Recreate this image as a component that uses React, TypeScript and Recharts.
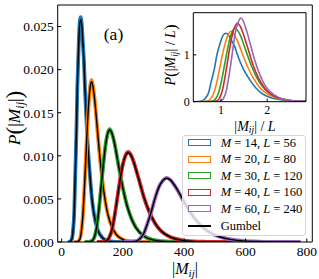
import React from 'react';
import { LineChart, Line, XAxis, YAxis, CartesianGrid } from 'recharts';

const FONT = '"Liberation Serif", "DejaVu Serif", serif';

// Legend / series info
const M_VALUES = [14, 20, 30, 40, 60];
const L_VALUES = [56, 80, 120, 160, 240];
const COLORS = ['#1f77b4', '#ff7f0e', '#2ca02c', '#d62728', '#9467bd'];

// Main axes ticks
const X_TICKS = [0, 200, 400, 600, 800];
const Y_TICKS = [0, 0.005, 0.01, 0.015, 0.02, 0.025];
const INSET_X_TICKS = [1, 2];
const INSET_Y_TICKS = [0, 1];

// M=14, L=56
const X_14 = [20, 26, 33, 37, 41, 44, 48, 51, 55, 58, 62, 66, 69, 73, 76, 83, 91, 98, 105, 119, 134, 148, 162, 176, 200];
const HIST_14 = [0, 0.00001, 0.00035, 0.00131, 0.0035, 0.0075, 0.01265, 0.0178, 0.0223, 0.025, 0.0261, 0.025, 0.0232, 0.0207, 0.0178, 0.0125, 0.0083, 0.0053, 0.0033, 0.00128, 0.00046, 0.00017, 0.00006, 0.00002, 0];
const GUMBEL_14 = [0, 0.000005, 0.00032, 0.00128, 0.00356, 0.00747, 0.01258, 0.01788, 0.02223, 0.02494, 0.0258, 0.02507, 0.02319, 0.02066, 0.01786, 0.01252, 0.00829, 0.0053, 0.00332, 0.00126, 0.00047, 0.00017, 0.00006, 0.00002, 0];

// M=20, L=80
const X_20 = [40, 48, 58, 63, 68, 73, 78, 83, 88, 93, 97.5, 102, 107, 112, 117, 127, 137, 147, 157, 177, 197, 216, 236, 256, 290];
const HIST_20 = [0, 0.00001, 0.00025, 0.00095, 0.0025, 0.0054, 0.0091, 0.0129, 0.016, 0.0181, 0.0188, 0.0181, 0.0167, 0.0149, 0.0128, 0.009, 0.006, 0.0038, 0.0024, 0.00092, 0.00034, 0.00012, 0.00005, 0.00002, 0];
const GUMBEL_20 = [0, 0.000004, 0.00023, 0.00092, 0.00256, 0.00538, 0.00907, 0.01289, 0.01603, 0.01798, 0.0186, 0.01807, 0.01672, 0.01489, 0.01287, 0.00902, 0.00598, 0.00382, 0.0024, 0.00091, 0.00034, 0.000125, 0.000046, 0.000017, 0];

// M=30, L=120
const X_30 = [75, 86, 100, 107.5, 114.5, 121.5, 128.5, 136, 143, 150, 157, 164, 171, 178, 185, 199.5, 213.5, 228, 242, 270, 298.5, 327, 355, 383, 430];
const HIST_30 = [0, 0.00001, 0.00018, 0.00066, 0.00176, 0.0038, 0.0063, 0.009, 0.0112, 0.0126, 0.0131, 0.0126, 0.0117, 0.0104, 0.009, 0.0063, 0.0042, 0.0027, 0.0017, 0.00065, 0.00024, 0.00009, 0.00003, 0.00001, 0];
const GUMBEL_30 = [0, 0.000003, 0.00016, 0.00064, 0.00179, 0.00376, 0.00634, 0.00901, 0.0112, 0.01257, 0.013, 0.01263, 0.01169, 0.01041, 0.009, 0.00631, 0.00418, 0.00267, 0.00167, 0.00064, 0.00024, 0.000087, 0.000032, 0.000012, 0];

// M=40, L=160
const X_40 = [115, 128, 146, 155, 164, 172.5, 181.5, 190.5, 199, 208, 217, 226, 235, 243.5, 252.5, 270, 288, 306, 323.5, 359, 394.5, 430, 465.5, 501, 560];
const HIST_40 = [0, 0.00001, 0.00014, 0.00052, 0.0014, 0.003, 0.0051, 0.0072, 0.0089, 0.01, 0.01045, 0.0101, 0.0093, 0.0083, 0.0072, 0.005, 0.0033, 0.0021, 0.0013, 0.00051, 0.00019, 0.00007, 0.00003, 0.00001, 0];
const GUMBEL_40 = [0, 0.000002, 0.000128, 0.00051, 0.00143, 0.003, 0.00505, 0.00718, 0.00893, 0.01001, 0.01036, 0.01007, 0.00931, 0.00829, 0.00717, 0.00503, 0.00333, 0.00213, 0.00133, 0.00051, 0.00019, 0.00007, 0.000026, 0.00001, 0];

// M=60, L=240
const X_60 = [195, 218, 243, 255, 268, 280, 293, 305, 317.5, 330, 342.5, 355, 367.5, 380, 392.5, 417, 442, 467, 492, 542, 591.5, 641, 691, 741, 780];
const HIST_60 = [0, 0.00001, 0.0001, 0.00037, 0.001, 0.00215, 0.0036, 0.0051, 0.0064, 0.0071, 0.00745, 0.0072, 0.0066, 0.0059, 0.0051, 0.0036, 0.0024, 0.0015, 0.00095, 0.00036, 0.00013, 0.00005, 0.00002, 0.00001, 0];
const GUMBEL_60 = [0, 0.0000015, 0.000092, 0.000366, 0.00102, 0.00214, 0.0036, 0.00512, 0.00637, 0.00714, 0.00739, 0.00718, 0.00664, 0.00592, 0.00512, 0.00359, 0.00237, 0.00152, 0.00095, 0.00036, 0.000134, 0.00005, 0.000018, 0.000007, 0];

const XS = [X_14, X_20, X_30, X_40, X_60];
const HISTS = [HIST_14, HIST_20, HIST_30, HIST_40, HIST_60];
const GUMBELS = [GUMBEL_14, GUMBEL_20, GUMBEL_30, GUMBEL_40, GUMBEL_60];

const zip = (xs: number[], ys: number[]) => xs.map((x, i) => ({ x, y: ys[i] }));
const mainHist = XS.map((xs, k) => zip(xs, HISTS[k]));
const mainGumbel = XS.map((xs, k) => zip(xs, GUMBELS[k]));
const insetHist = XS.map((xs, k) => xs.map((x, i) => ({ x: x / L_VALUES[k], y: HISTS[k][i] * L_VALUES[k] })));

const tickStyle = { fill: '#000', fontSize: 13.5, fontFamily: FONT };
const insetTickStyle = { fill: '#000', fontSize: 12, fontFamily: FONT };

const MainChart = () => (
  <LineChart width={319} height={279} margin={{ top: 0, right: 0, bottom: 0, left: 0 }}>
    <XAxis dataKey="x" type="number" domain={[-13, 818]} ticks={X_TICKS} interval={0} allowDataOverflow
      height={37} tickSize={-3.5} tickMargin={7.5} stroke="#000" tick={tickStyle} />
    <YAxis type="number" domain={[0, 0.0275]} ticks={Y_TICKS} interval={0} allowDataOverflow
      width={57.7} tickSize={-3.5} tickMargin={7.5} stroke="#000" tick={tickStyle}
      tickFormatter={(v: number) => v.toFixed(3)} />
    <XAxis xAxisId="top" orientation="top" dataKey="x" type="number" domain={[-13, 818]} ticks={X_TICKS} interval={0}
      allowDataOverflow height={5} tickSize={-3.5} stroke="#000" tick={false} />
    <YAxis yAxisId="right" orientation="right" type="number" domain={[0, 0.0275]} ticks={Y_TICKS} interval={0}
      allowDataOverflow width={6.7} tickSize={-3.5} stroke="#000" tick={false} />
    {mainHist.map((d, k) => [
      <Line key={'h' + k} data={d} dataKey="y" type="monotone" stroke={COLORS[k]} strokeWidth={3.8}
        dot={false} activeDot={false} isAnimationActive={false} />,
      <Line key={'g' + k} data={mainGumbel[k]} dataKey="y" type="monotone" stroke="#000" strokeWidth={1.4}
        dot={false} activeDot={false} isAnimationActive={false} />,
    ])}
  </LineChart>
);

const InsetChart = () => (
  <LineChart width={160} height={140} margin={{ top: 0, right: 0, bottom: 0, left: 0 }}>
    <CartesianGrid fill="#fff" stroke="none" horizontal={false} vertical={false} />
    <XAxis dataKey="x" type="number" domain={[0.4, 2.84]} ticks={INSET_X_TICKS} interval={0} allowDataOverflow
      height={38.3} tickSize={-3} tickMargin={6.5} stroke="#000" tick={insetTickStyle} />
    <YAxis type="number" domain={[0, 1.9]} ticks={INSET_Y_TICKS} interval={0} allowDataOverflow
      width={43.3} tickSize={-3} tickMargin={6.5} stroke="#000" tick={insetTickStyle} />
    <XAxis xAxisId="top" orientation="top" type="number" domain={[0.4, 2.84]} allowDataOverflow
      height={12.7} stroke="#000" tick={false} tickLine={false} />
    <YAxis yAxisId="right" orientation="right" type="number" domain={[0, 1.9]} allowDataOverflow
      width={4} stroke="#000" tick={false} tickLine={false} />
    {insetHist.map((d, k) => (
      <Line key={'i' + k} data={d} dataKey="y" type="monotone" stroke={COLORS[k]} strokeWidth={1.6}
        dot={false} activeDot={false} isAnimationActive={false} />
    ))}
  </LineChart>
);

const LegendBox = () => (
  <div style={{
    position: 'absolute', left: 182.3, top: 135, width: 123.4, height: 101, boxSizing: 'border-box',
    border: '1px solid #d6d6d6', borderRadius: 3, background: 'rgba(255,255,255,0.8)',
    fontFamily: FONT, fontSize: 12.5, color: '#000',
  }}>
    {M_VALUES.map((m, k) => (
      <div key={k} style={{ position: 'absolute', left: 0, top: -0.5 + k * 16.6, height: 16, width: '100%' }}>
        <div style={{
          position: 'absolute', left: 4.4, top: 3.5, width: 23, height: 7, boxSizing: 'border-box',
          border: `1.5px solid ${COLORS[k]}`, background: '#fff',
        }} />
        <div style={{ position: 'absolute', left: 37.5, top: -1, whiteSpace: 'nowrap', lineHeight: '16px' }}>
          <i>M</i> = {m}, <i>L</i> = {L_VALUES[k]}
        </div>
      </div>
    ))}
    <div style={{ position: 'absolute', left: 0, top: -0.5 + 5 * 16.6, height: 16, width: '100%' }}>
      <div style={{ position: 'absolute', left: 4.4, top: 6.5, width: 23, height: 1.5, background: '#000' }} />
      <div style={{ position: 'absolute', left: 37.5, top: -1, whiteSpace: 'nowrap', lineHeight: '16px' }}>Gumbel</div>
    </div>
  </div>
);

const Labels = () => (
  <svg width={319} height={279} style={{ position: 'absolute', left: 0, top: 0, pointerEvents: 'none' }}
    fontFamily={FONT}>
    <text x={113.5} y={40} fontSize={17.5} textAnchor="middle">(a)</text>
    <text transform="translate(20,118) rotate(-90)" fontSize={17.5} textAnchor="middle">
      <tspan fontStyle="italic">P</tspan>
      <tspan fontSize={23} dy={1.5}>(</tspan>
      <tspan dy={-1.5}>|</tspan>
      <tspan fontStyle="italic">M</tspan>
      <tspan fontStyle="italic" fontSize={12} dy={3.5}>ij</tspan>
      <tspan dy={-3.5}>|</tspan>
      <tspan fontSize={23} dy={1.5}>)</tspan>
    </text>
    <text x={185} y={273.5} fontSize={16} textAnchor="middle">
      <tspan>|</tspan>
      <tspan fontStyle="italic">M</tspan>
      <tspan fontStyle="italic" fontSize={11} dy={3}>ij</tspan>
      <tspan dy={-3}>|</tspan>
    </text>
    <text transform="translate(175,55) rotate(-90)" fontSize={14} textAnchor="middle">
      <tspan fontStyle="italic">P</tspan>
      <tspan fontSize={17} dy={1}>(</tspan>
      <tspan dy={-1}>|</tspan>
      <tspan fontStyle="italic">M</tspan>
      <tspan fontStyle="italic" fontSize={9.5} dy={2.5}>ij</tspan>
      <tspan dy={-2.5}>| / </tspan>
      <tspan fontStyle="italic">L</tspan>
      <tspan fontSize={17} dy={1}>)</tspan>
    </text>
    <text x={255} y={130.5} fontSize={14} textAnchor="middle">
      <tspan>|</tspan>
      <tspan fontStyle="italic">M</tspan>
      <tspan fontStyle="italic" fontSize={9.5} dy={2.5}>ij</tspan>
      <tspan dy={-2.5}>| / </tspan>
      <tspan fontStyle="italic">L</tspan>
    </text>
  </svg>
);

export default function App() {
  return (
    <div style={{ position: 'absolute', left: 0, top: 0, width: 319, height: 279, background: '#fff' }}>
      <div style={{ position: 'absolute', left: 0, top: 0 }}>
        <MainChart />
      </div>
      <div style={{ position: 'absolute', left: 150, top: 0 }}>
        <InsetChart />
      </div>
      <LegendBox />
      <Labels />
    </div>
  );
}
